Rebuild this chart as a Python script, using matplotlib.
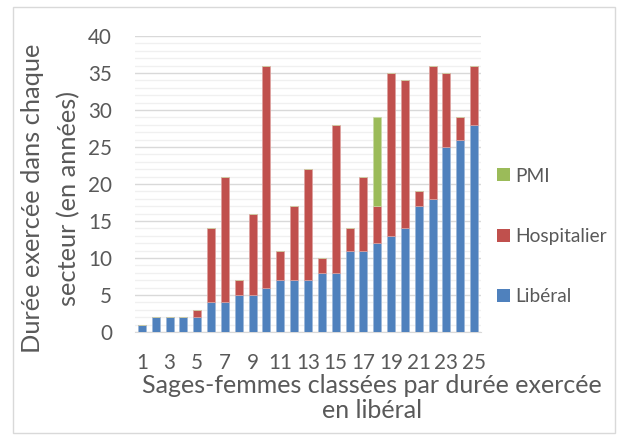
import matplotlib
matplotlib.use("Agg")
import matplotlib.pyplot as plt
from matplotlib.patches import Rectangle
import numpy as np

plt.rcParams['font.family'] = ['Lato', 'DejaVu Sans']

sages_femmes = list(range(1, 26))
liberal = [1, 2, 2, 2, 2, 4, 4, 5, 5, 6, 7, 7, 7, 8, 8, 11, 11, 12, 13, 14, 17, 18, 25, 26, 28]
hospitalier = [0, 0, 0, 0, 1, 10, 17, 2, 11, 30, 4, 10, 15, 2, 20, 3, 10, 5, 22, 20, 2, 18, 10, 3, 8]
pmi = [0, 0, 0, 0, 0, 0, 0, 0, 0, 0, 0, 0, 0, 0, 0, 0, 0, 12, 0, 0, 0, 0, 0, 0, 0]
tick_labels = [str(i) if i % 2 == 1 else "" for i in sages_femmes]
series_names = ['PMI', 'Hospitalier', 'Libéral']
ylabel_lines = ['Durée exercée dans chaque', 'secteur (en années)']
xlabel_lines = ['Sages-femmes classées par durée exercée', 'en libéral']

c_lib = '#4f81bd'
c_hosp = '#c0504d'
c_pmi = '#9bbb59'
txt = '#595959'

W, H = 621, 436
fig = plt.figure(figsize=(W / 100, H / 100), dpi=100)
renderer = fig.canvas.get_renderer()


def fx(px):
    return px / W


def fy(py):
    return 1 - py / H


def fit_size(s, target_px, base=14.0, along='width', rotation=0):
    t = fig.text(0, 0, s, fontsize=base, rotation=rotation)
    bb = t.get_window_extent(renderer)
    t.remove()
    size = bb.width if along == 'width' else bb.height
    return base * target_px / size


# chart border
fig.patches.append(Rectangle((fx(13), fy(433)), fx(615) - fx(13), fy(7) - fy(433),
                             transform=fig.transFigure, fill=False,
                             edgecolor='#d9d9d9', linewidth=1))

ax = fig.add_axes([fx(135), fy(332), fx(481) - fx(135), fy(36) - fy(332)])

x = np.arange(len(sages_femmes))
w = 0.58
lib = np.array(liberal)
hosp = np.array(hospitalier)
p = np.array(pmi)
ax.bar(x, lib, w, color=c_lib, edgecolor='#9db7d8', linewidth=0.5, zorder=3)
ax.bar(x, hosp, w, bottom=lib, color=c_hosp, edgecolor='#dda19f', linewidth=0.5, zorder=3)
ax.bar(x, p, w, bottom=lib + hosp, color=c_pmi, edgecolor='#c9daa5', linewidth=0.5, zorder=3)

tick_fs = fit_size('40', 24)
ax.set_ylim(0, 40)
ax.set_xlim(-0.5, len(x) - 0.5)
ax.set_yticks(range(0, 41, 5))
ax.set_yticks(range(0, 41, 1), minor=True)
ax.grid(axis='y', which='major', color='#d9d9d9', linewidth=1.0, zorder=0)
ax.grid(axis='y', which='minor', color='#f0f0f0', linewidth=1.0, zorder=0)
ax.set_xticks(x)
ax.set_xticklabels(tick_labels)
ax.tick_params(axis='both', which='both', length=0, colors=txt, labelsize=tick_fs)
ax.tick_params(axis='x', pad=15)
ax.tick_params(axis='y', pad=16.5)
for s in ['top', 'right', 'left']:
    ax.spines[s].set_visible(False)
ax.spines['bottom'].set_color('#d9d9d9')

# y axis title (two lines, placed by baseline)
yl_fs = fit_size(ylabel_lines[0], 310)
for line, bx in zip(ylabel_lines, [40, 76]):
    fig.text(fx(bx), fy(198), line, rotation=90, rotation_mode='anchor',
             ha='center', va='baseline', fontsize=yl_fs, color=txt)

# x axis title
xl_fs = fit_size(xlabel_lines[0], 460)
for line, by in zip(xlabel_lines, [393, 418]):
    fig.text(fx(372), fy(by), line, ha='center', va='baseline', fontsize=xl_fs, color=txt)

# legend
leg_fs = fit_size('Hospitalier', 92)
leg_colors = [c_pmi, c_hosp, c_lib]
leg_y = [175, 235, 295]
for name, col, yy in zip(series_names, leg_colors, leg_y):
    fig.patches.append(Rectangle((fx(497), fy(yy + 6.5)), fx(510) - fx(497), fy(yy - 6.5) - fy(yy + 6.5),
                                 transform=fig.transFigure, facecolor=col, edgecolor='none'))
    fig.text(fx(515), fy(yy), name, ha='left', va='center_baseline', fontsize=leg_fs, color=txt)

fig.savefig('out.png', dpi=100)
